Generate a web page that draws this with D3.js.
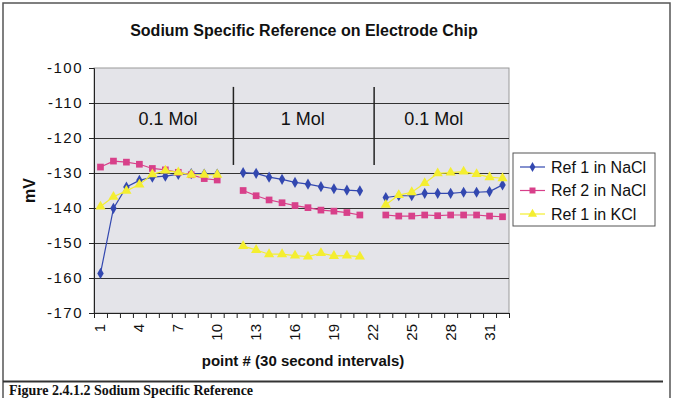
<!DOCTYPE html>
<html>
<head>
<meta charset="UTF-8">
<title>Sodium Specific Reference on Electrode Chip</title>
<script src="https://d3js.org/d3.v7.min.js"></script>
<style>
  body { margin: 0; background: #fff; }
  text { font-family: Arial, "Liberation Sans", sans-serif; fill: #111; }
</style>
</head>
<body>
<div id="chart"></div>
<script>
// readings, point # 1..32 (11 and 22 are gaps between runs)
var points1 = d3.range(1, 11);
var points2 = d3.range(12, 22);
var points3 = d3.range(23, 33);

var ref1NaCl = [
  [-158.7, -140.1, -134.0, -132.1, -131.2, -130.9, -130.4, -130.2, -130.3, -130.3],
  [-129.9, -130.1, -131.2, -131.8, -132.7, -133.2, -133.9, -134.5, -134.9, -135.1],
  [-137.0, -136.5, -136.5, -135.8, -135.8, -135.8, -135.5, -135.5, -135.3, -133.4]
];
var ref2NaCl = [
  [-128.3, -126.6, -126.9, -127.5, -128.7, -129.1, -129.8, -130.5, -131.6, -132.0],
  [-135.0, -136.5, -137.7, -138.5, -139.3, -139.9, -140.6, -140.9, -141.3, -142.0],
  [-142.0, -142.3, -142.3, -142.0, -142.2, -142.0, -142.0, -142.0, -142.3, -142.5]
];
var ref1KCl = [
  [-139.6, -136.8, -135.1, -133.3, -130.4, -129.3, -129.8, -130.5, -130.5, -130.5],
  [-150.9, -152.0, -153.2, -153.2, -153.6, -153.9, -152.9, -153.7, -153.6, -153.9],
  [-139.1, -136.3, -135.5, -132.9, -130.1, -129.9, -129.6, -130.3, -131.2, -131.5]
];

var seriesNames = ["Ref 1 in NaCl", "Ref 2 in NaCl", "Ref 1 in KCl"];
var yTicks = [-100, -110, -120, -130, -140, -150, -160, -170];
var xTickLabels = [1, 4, 7, 10, 13, 16, 19, 22, 25, 28, 31];
var regionLabels = ["0.1 Mol", "1 Mol", "0.1 Mol"];
var regionCenters = [6.2, 16.6, 26.7];
var dividers = [11.25, 22.1];

var width = 676, height = 398;
var plot = { left: 94, right: 509, top: 68, bottom: 313 };

var svg = d3.select("#chart").append("svg")
    .attr("width", width)
    .attr("height", height);

// outer frame and caption rule
svg.append("rect")
    .attr("x", 3).attr("y", 3)
    .attr("width", 667).attr("height", 410)
    .attr("fill", "none")
    .attr("stroke", "#555")
    .attr("stroke-width", 1.5);

svg.append("line")
    .attr("x1", 3).attr("x2", 663)
    .attr("y1", 381.5).attr("y2", 381.5)
    .attr("stroke", "#333")
    .attr("stroke-width", 2);

svg.append("text")
    .attr("x", 9).attr("y", 395)
    .style("font-family", "'Liberation Serif', 'Times New Roman', serif")
    .style("font-weight", "bold")
    .style("font-size", "14px")
    .attr("fill", "#222")
    .text("Figure 2.4.1.2 Sodium Specific Reference");

// scales
var x = d3.scaleLinear().domain([0.5, 32.5]).range([plot.left, plot.right]);
var y = d3.scaleLinear().domain([-170, -100]).range([plot.bottom, plot.top]);

// plot area
svg.append("rect")
    .attr("x", plot.left).attr("y", plot.top)
    .attr("width", plot.right - plot.left)
    .attr("height", plot.bottom - plot.top)
    .attr("fill", "#e4e4e9")
    .attr("stroke", "#9a9a9a");

svg.selectAll(".grid")
    .data(yTicks.filter(function (d) { return d > -170 && d < -100; }))
    .enter().append("line")
    .attr("x1", plot.left).attr("x2", plot.right)
    .attr("y1", function (d) { return Math.round(y(d)) + 0.5; })
    .attr("y2", function (d) { return Math.round(y(d)) + 0.5; })
    .attr("stroke", "#333");

// y axis
var yAxis = svg.append("g")
    .attr("transform", "translate(" + plot.left + ",0)")
    .call(d3.axisLeft(y).tickValues(yTicks).tickSize(5).tickPadding(6)
        .tickFormat(function (d) { return "-" + Math.abs(d); }));
yAxis.select(".domain").attr("stroke", "#222");
yAxis.selectAll(".tick line").attr("stroke", "#222");
yAxis.selectAll("text")
    .style("font-size", "15px")
    .style("letter-spacing", "1.5px")
    .attr("fill", "#222");

// x axis: ticks between categories
var xAxis = svg.append("g")
    .attr("transform", "translate(0," + plot.bottom + ")")
    .call(d3.axisBottom(x).tickValues(d3.range(0.5, 33, 1)).tickSize(5).tickFormat(""));
xAxis.select(".domain").attr("stroke", "#222");
xAxis.selectAll(".tick line").attr("stroke", "#222");

svg.selectAll(".xlab")
    .data(xTickLabels)
    .enter().append("text")
    .attr("transform", function (d) {
        return "translate(" + (x(d) + 5) + "," + (plot.bottom + 11) + ") rotate(-90)";
    })
    .attr("text-anchor", "end")
    .style("font-size", "15px")
    .attr("fill", "#222")
    .text(function (d) { return d; });

// titles
svg.append("text")
    .attr("x", 304).attr("y", 36)
    .attr("text-anchor", "middle")
    .style("font-weight", "bold")
    .style("font-size", "16px")
    .attr("fill", "#222")
    .text("Sodium Specific Reference on Electrode Chip");

svg.append("text")
    .attr("x", 303).attr("y", 366)
    .attr("text-anchor", "middle")
    .style("font-weight", "bold")
    .style("font-size", "15px")
    .attr("fill", "#222")
    .text("point # (30 second intervals)");

svg.append("text")
    .attr("transform", "translate(35," + y(-135) + ") rotate(-90)")
    .attr("text-anchor", "middle")
    .style("font-weight", "bold")
    .style("font-size", "16px")
    .attr("fill", "#222")
    .text("mV");

// concentration regions
svg.selectAll(".divider")
    .data(dividers)
    .enter().append("line")
    .attr("x1", function (d) { return x(d); })
    .attr("x2", function (d) { return x(d); })
    .attr("y1", y(-105.4)).attr("y2", y(-127.7))
    .attr("stroke", "#222")
    .attr("stroke-width", 1.5);

svg.selectAll(".region")
    .data(regionLabels)
    .enter().append("text")
    .attr("x", function (d, i) { return x(regionCenters[i]); })
    .attr("y", y(-114.6))
    .attr("dy", "0.35em")
    .attr("text-anchor", "middle")
    .style("font-size", "18px")
    .attr("fill", "#1a1a1a")
    .text(function (d) { return d; });

// series
var segPoints = [points1, points2, points3];
var series = [
  { name: seriesNames[0], runs: ref1NaCl, color: "#3348b0", marker: d3.symbolDiamond, size: 36 },
  { name: seriesNames[1], runs: ref2NaCl, color: "#d8408a", marker: d3.symbolSquare, size: 45 },
  { name: seriesNames[2], runs: ref1KCl, color: "#f4ee30", marker: d3.symbolTriangle, size: 45 }
];

var line = d3.line()
    .x(function (d) { return x(d.p); })
    .y(function (d) { return y(d.v); });

series.forEach(function (s) {
    var g = svg.append("g");
    s.runs.forEach(function (run, r) {
        var pts = run.map(function (v, i) { return { p: segPoints[r][i], v: v }; });
        g.append("path")
            .datum(pts)
            .attr("d", line)
            .attr("fill", "none")
            .attr("stroke", s.color)
            .attr("stroke-width", 1.2);
        g.selectAll(null)
            .data(pts)
            .enter().append("path")
            .attr("transform", function (d) { return "translate(" + x(d.p) + "," + y(d.v) + ")"; })
            .attr("d", d3.symbol().type(s.marker).size(s.size))
            .attr("fill", s.color);
    });
});

// legend
var legend = svg.append("g").attr("transform", "translate(513,153)");
legend.append("rect")
    .attr("width", 142).attr("height", 73)
    .attr("fill", "#fff")
    .attr("stroke", "#555");

var entry = legend.selectAll(".entry")
    .data(series)
    .enter().append("g")
    .attr("transform", function (d, i) { return "translate(0," + (14 + i * 23.5) + ")"; });
entry.append("line")
    .attr("x1", 7).attr("x2", 32)
    .attr("stroke", function (d) { return d.color; })
    .attr("stroke-width", 1.2);
entry.append("path")
    .attr("transform", "translate(19.5,0)")
    .attr("d", function (d) { return d3.symbol().type(d.marker).size(d.size * 0.8)(); })
    .attr("fill", function (d) { return d.color; });
entry.append("text")
    .attr("x", 38)
    .attr("dy", "0.36em")
    .style("font-size", "16px")
    .attr("fill", "#111")
    .text(function (d) { return d.name; });
</script>
</body>
</html>
